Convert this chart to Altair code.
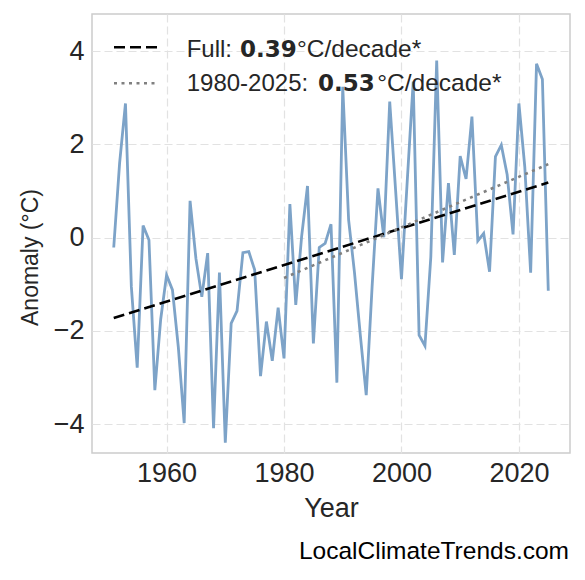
import altair as alt
import pandas as pd

years = list(range(1951, 2026))
anomaly = [
    -0.21, 1.60, 2.88, -1.05, -2.79, 0.26, -0.05, -3.27, -1.75,
    -0.80, -1.12, -2.35, -3.98, 0.79, -0.45, -1.27, -0.33, -4.09, -0.75,
    -4.40, -1.84, -1.57, -0.32, -0.30, -0.69, -2.97, -1.80, -2.64, -1.50,
    -2.59, 0.72, -1.44, 0.03, 1.11, -2.27, -0.21, -0.12, 0.29, -3.11,
    3.24, 0.38, -0.75, -2.10, -3.38, -1.05, 1.06, 0.01, 2.92, 1.02,
    -0.89, 1.25, 3.35, -2.09, -2.32, -0.41, 3.80, -0.53, 1.17, -0.37,
    1.75, 1.26, 2.60, -0.07, 0.09, -0.73, 1.74, 1.99, 1.35, 0.07,
    2.88, 1.52, -0.75, 3.73, 3.40, -1.14,
]
x_ticks = [1960, 1980, 2000, 2020]
y_ticks = [-4, -2, 0, 2, 4]
legend_rows = [
    ("Full: ", "0.39", "°C/decade*"),
    ("1980-2025: ", "0.53", "°C/decade*"),
]
watermark = "LocalClimateTrends.com"

df = pd.DataFrame({"Year": years, "Anomaly": anomaly})
one = pd.DataFrame({"k": [0]})

FONT = "Liberation Sans"
TXT = "#262626"

xs = alt.Scale(domain=[1947.3, 2028.7], nice=False, zero=False)
ys = alt.Scale(domain=[-4.62, 4.80], nice=False, zero=False)

base = alt.Chart(df)

line = base.mark_line(color="#7da3c8", strokeWidth=2.8).encode(
    x=alt.X("Year:Q", scale=xs,
            axis=alt.Axis(values=x_ticks, format="d", title="Year",
                          titleFontSize=27, titlePadding=9)),
    y=alt.Y("Anomaly:Q", scale=ys,
            axis=alt.Axis(values=y_ticks, title="Anomaly (°C)",
                          titleFontSize=23, titleX=-62, titleY=243,
                          titleBaseline="middle", titleAlign="center",
                          titleAngle=270)),
)

full_trend = base.transform_regression(
    "Year", "Anomaly", extent=[1951, 2025]
).mark_line(color="black", strokeWidth=2.6, strokeDash=[11, 5]).encode(
    x=alt.X("Year:Q", scale=xs), y=alt.Y("Anomaly:Q", scale=ys)
)

recent_trend = base.transform_filter(alt.datum.Year >= 1980).transform_regression(
    "Year", "Anomaly", extent=[1980, 2025]
).mark_line(color="#808080", strokeWidth=2.6, strokeDash=[3, 4.5]).encode(
    x=alt.X("Year:Q", scale=xs), y=alt.Y("Anomaly:Q", scale=ys)
)

leg = alt.Chart(one)
leg_dash = leg.mark_rule(color="black", strokeWidth=2.6, strokeDash=[11, 5]).encode(
    x=alt.value(22), x2=alt.value(66), y=alt.value(33.3)
)
leg_dot = leg.mark_rule(color="#808080", strokeWidth=2.6, strokeDash=[3, 4.5]).encode(
    x=alt.value(22), x2=alt.value(66), y=alt.value(69.3)
)

texts = []
row_y = [42.7, 77.0]
row_x = [(94.7, 148.0, 205.0), (94.7, 226.0, 285.3)]
for (a, b, c), yy, (xa, xb, xc) in zip(legend_rows, row_y, row_x):
    texts.append(leg.mark_text(text=a, font=FONT, fontSize=24, color=TXT,
                               align="left", baseline="alphabetic").encode(
        x=alt.value(xa), y=alt.value(yy)))
    texts.append(leg.mark_text(text=b, font="DejaVu Sans", fontWeight="bold",
                               fontSize=23, color=TXT,
                               align="left", baseline="alphabetic").encode(
        x=alt.value(xb), y=alt.value(yy)))
    texts.append(leg.mark_text(text=c, font=FONT, fontSize=24.5, color=TXT,
                               align="left", baseline="alphabetic").encode(
        x=alt.value(xc), y=alt.value(yy)))

wm = leg.mark_text(text=watermark, font=FONT, fontSize=24.5, color="black",
                   align="right", baseline="middle").encode(
    x=alt.value(477), y=alt.value(538))

chart = alt.layer(line, full_trend, recent_trend, leg_dash, leg_dot, *texts, wm).properties(
    width=478, height=439,
    autosize=alt.AutoSizeParams(type="none"),
    padding={"left": 84, "top": 6, "right": 7, "bottom": 119},
).configure_view(
    stroke="#cccccc", strokeWidth=1.5
).configure_axis(
    grid=True, gridDash=[8, 4], gridColor="#e2e2e2", gridWidth=1.2,
    domain=False, ticks=False,
    labelFont=FONT, labelFontSize=27, labelColor=TXT,
    titleFont=FONT, titleFontSize=26, titleColor=TXT, titleFontWeight="normal",
).configure_axisX(
    labelPadding=7
).configure_axisY(
    labelPadding=8
)

chart.save("out.html", embed_options={"renderer": "svg", "actions": False})
